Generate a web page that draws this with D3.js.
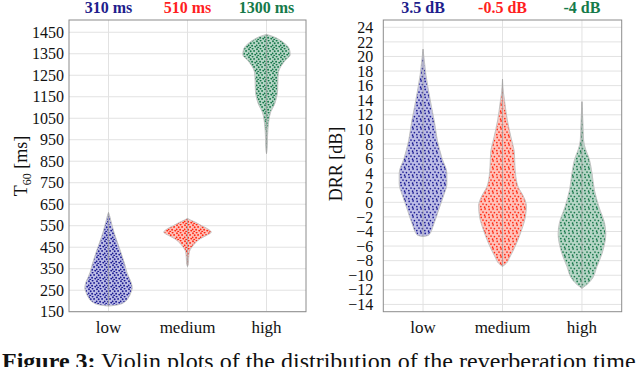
<!DOCTYPE html>
<html>
<head>
<meta charset="utf-8">
<title>Violin plots T60 / DRR</title>
<style>
html,body{margin:0;padding:0;background:#fff;}
svg{display:block;font-family:"Liberation Serif","Times New Roman",serif;}
.grid line{stroke:#e2e2e2;stroke-width:1;}
.frame{fill:none;stroke:#8c8c8c;stroke-width:1;}
.violin{stroke:#c4c4c4;stroke-width:1;}
.yax text{font-family:"Liberation Serif","Times New Roman",serif;font-size:16px;fill:#111;}
</style>
</head>
<body>
<svg id="chart" width="640" height="367"></svg>
<script src="https://cdn.jsdelivr.net/npm/d3@7"></script>
<script>
// ---- data ----
const categories = ["low", "medium", "high"];
const t60Heads = ["310 ms", "510 ms", "1300 ms"];
const drrHeads = ["3.5 dB", "-0.5 dB", "-4 dB"];
const t60Ticks = [150,250,350,450,550,650,750,850,950,1050,1150,1250,1350,1450];
const drrTicks = [-14,-12,-10,-8,-6,-4,-2,0,2,4,6,8,10,12,14,16,18,20,22,24];

// violin outlines: [value, relative half width]
const t60Low = [[176,0],[182,0.4],[195,0.68],[215,0.84],[240,0.95],[260,1.0],[285,0.96],[310,0.86],[335,0.77],[365,0.7],[400,0.6],[440,0.48],[480,0.35],[520,0.23],[560,0.13],[595,0.05],[612,0]];
const t60Med = [[360,0],[370,0.03],[400,0.05],[430,0.08],[450,0.18],[470,0.33],[490,0.55],[505,0.8],[520,1.0],[535,0.86],[550,0.6],[565,0.35],[577,0.12],[584,0]];
const t60High = [[885,0],[900,0.02],[950,0.04],[1000,0.06],[1040,0.1],[1080,0.18],[1110,0.32],[1140,0.41],[1180,0.47],[1220,0.48],[1260,0.5],[1290,0.6],[1320,0.8],[1345,1.0],[1370,0.97],[1395,0.8],[1415,0.55],[1430,0.28],[1440,0]];
const drrLow = [[-4.7,0],[-4.5,0.24],[-3,0.45],[-1,0.66],[1,0.87],[2.5,1.0],[4,1.0],[6,0.8],[8.5,0.6],[11,0.48],[13,0.36],[15.5,0.22],[17.5,0.12],[19.5,0.05],[21,0]];
const drrMed = [[-8.8,0],[-8.4,0.15],[-7.5,0.31],[-5.6,0.59],[-3.8,0.8],[-2,0.96],[-0.5,1.0],[1,0.85],[2,0.67],[3.5,0.56],[5,0.52],[6.7,0.5],[9,0.35],[11.3,0.2],[13.6,0.1],[15,0.04],[16.9,0]];
const drrHigh = [[-11.8,0],[-11.3,0.2],[-10.7,0.38],[-8.8,0.63],[-6.5,0.89],[-4.3,1.0],[-2.9,0.95],[-0.6,0.71],[1.7,0.52],[4,0.42],[6.2,0.28],[7.2,0.16],[8.5,0.07],[11,0.04],[13.8,0]];

const dotCol  = ["#1c1c92", "#ff2a12", "#17774a"];
const fillCol = ["#bdbde6", "#ffc2ba", "#b6d6c6"];
const headCol = ["#1e1e8c", "#ff1f1f", "#157a4a"];

const svg = d3.select("#chart");
const defs = svg.append("defs");

// speckle texture standing in for the jittered sample points
function makePattern(id, bg, dot, tile, pts, r) {
  const p = defs.append("pattern").attr("id", id)
    .attr("patternUnits", "userSpaceOnUse")
    .attr("width", tile).attr("height", tile);
  p.append("rect").attr("width", tile).attr("height", tile).attr("fill", bg);
  pts.forEach(q => p.append("circle").attr("cx", q[0]).attr("cy", q[1])
    .attr("r", r).attr("fill", dot));
}
const densePts = [[1,1.2],[4.6,0.5],[2.7,3.3],[6.1,2.9],[0.6,5.4],[4.1,5.8],[7.2,6.6],[2.2,7.6]];
const sparsePts = [[1.2,1.4],[5.1,0.9],[3.0,4.1],[6.4,4.6],[0.8,6.6],[4.6,7.2]];
[0,1,2].forEach(i => {
  makePattern("pd" + i, fillCol[i], dotCol[i], 8, densePts, 0.95);
  makePattern("ps" + i, fillCol[i], dotCol[i], 8, sparsePts, 0.85);
});

function panel(o) {
  const x = d3.scaleLinear().domain([-0.5, 2.5]).range([o.left, o.right]);
  const y = d3.scaleLinear().domain(o.domain).range([311.7, 20]);
  const g = svg.append("g");

  // grid
  const grid = g.append("g").attr("class", "grid");
  grid.selectAll("line.h").data(o.ticks).join("line").attr("class", "h")
    .attr("x1", o.left).attr("x2", o.right)
    .attr("y1", d => y(d)).attr("y2", d => y(d));
  grid.selectAll("line.v").data(categories).join("line").attr("class", "v")
    .attr("x1", (d, i) => x(i)).attr("x2", (d, i) => x(i))
    .attr("y1", 20).attr("y2", 311.7);

  // violins
  o.series.forEach((s, i) => {
    const area = d3.area()
      .y(d => y(d[0]))
      .x0(d => x(i - 0.3 * d[1]))
      .x1(d => x(i + 0.3 * d[1]))
      .curve(d3.curveMonotoneY);
    g.append("path").attr("class", "violin")
      .attr("d", area(s))
      .attr("fill", `url(#${o.pat}${i})`);
    g.append("line")
      .attr("x1", x(i)).attr("x2", x(i))
      .attr("y1", y(s[0][0])).attr("y2", y(s[s.length - 1][0]))
      .attr("stroke", "#a0a0a0").attr("stroke-width", 1).attr("opacity", 0.8);
  });

  g.append("rect").attr("class", "frame")
    .attr("x", o.left).attr("y", 20)
    .attr("width", o.right - o.left).attr("height", 291.7);

  // y axis labels
  g.append("g").attr("class", "yax").attr("transform", `translate(${o.left},0)`)
    .call(d3.axisLeft(y).tickValues(o.ticks).tickFormat(d3.format("d"))
      .tickSize(0).tickPadding(o.pad))
    .call(a => a.select(".domain").remove())
    .attr("font-family", null).attr("font-size", null);

  // category labels
  g.selectAll("text.cat").data(categories).join("text").attr("class", "cat")
    .attr("x", (d, i) => x(i)).attr("y", 332.5)
    .attr("text-anchor", "middle").attr("font-size", 17).attr("fill", "#111")
    .text(d => d);

  // headline values
  g.selectAll("text.head").data(o.heads).join("text").attr("class", "head")
    .attr("x", (d, i) => x(i)).attr("y", 12.5)
    .attr("text-anchor", "middle").attr("font-size", 16).attr("font-weight", "bold")
    .attr("fill", (d, i) => headCol[i])
    .text(d => d);

  return g;
}

panel({left: 69, right: 306, domain: [150, 1507], ticks: t60Ticks, pad: 5,
       series: [t60Low, t60Med, t60High], heads: t60Heads, pat: "pd"});
panel({left: 383.3, right: 621.7, domain: [-15, 25], ticks: drrTicks, pad: 10,
       series: [drrLow, drrMed, drrHigh], heads: drrHeads, pat: "ps"});

// axis titles
const yl = svg.append("text").attr("transform", "translate(27,166) rotate(-90)")
  .attr("text-anchor", "middle").attr("font-size", 18).attr("fill", "#111");
yl.append("tspan").text("T");
yl.append("tspan").text("60").attr("font-size", 12).attr("dy", 4);
yl.append("tspan").text(" [ms]").attr("dy", -4);

svg.append("text").attr("transform", "translate(342,164) rotate(-90)")
  .attr("text-anchor", "middle").attr("font-size", 18).attr("fill", "#111")
  .text("DRR [dB]");

// caption (cut by the bottom edge as in the figure)
const cap = svg.append("text").attr("x", 2).attr("y", 368.5)
  .attr("font-size", 24).attr("fill", "#111");
cap.append("tspan").attr("font-weight", "bold").text("Figure 3:");
cap.append("tspan").text(" Violin plots of the distribution of the reverberation time");
</script>
</body>
</html>
